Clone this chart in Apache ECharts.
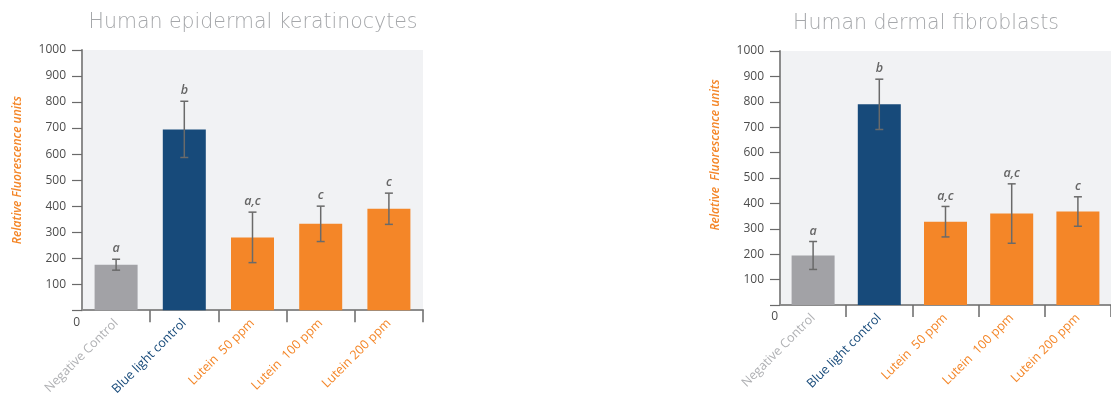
<!DOCTYPE html>
<html><head><meta charset="utf-8">
<script src="https://cdn.jsdelivr.net/npm/echarts@6/dist/echarts.min.js"></script>
<style>html,body{margin:0;padding:0;background:#fff}#c{width:1111px;height:398px}</style>
</head><body><div id="c"></div>
<script>
const categories = ['Negative Control', 'Blue light control', 'Lutein  50 ppm', 'Lutein  100 ppm', 'Lutein 200 ppm'];
const keratMeans = [175, 695, 280, 332, 390];
const keratErr = [21, 108, 97, 68, 60];
const keratLetters = ['a', 'b', 'a,c', 'c', 'c'];
const fibroMeans = [195, 790, 328, 360, 368];
const fibroErr = [55, 99, 60, 117, 58];
const fibroLetters = ['a', 'b', 'a,c', 'a,c', 'c'];
const titles = ['Human epidermal keratinocytes', 'Human dermal fibroblasts'];
const yNames = ['Relative Fluorescence units', 'Relative  Fluorescence units'];

const barColors = ['#a2a2a6', '#174a7a', '#f48628', '#f48628', '#f48628'];
const labelColors = ['#b0b1b4', '#174a7a', '#f48628', '#f48628', '#f48628'];
const FONT = '"Open Sans", "DejaVu Sans", sans-serif';
const TFONT = '"DejaVu Sans", sans-serif';

const chart = echarts.init(document.getElementById('c'));

function catData() {
  return categories.map((c, i) => ({ value: c, textStyle: { color: labelColors[i] } }));
}
function barData(means) {
  return means.map((v, i) => ({ value: v, itemStyle: { color: barColors[i] } }));
}
function errData(means, errs, letters) {
  return means.map((v, i) => [i, v - errs[i], v + errs[i], letters[i]]);
}
function renderErr(params, api) {
  const x = api.value(0);
  const lo = api.coord([x, api.value(1)]);
  const hi = api.coord([x, api.value(2)]);
  const capW = 4;
  const st = { stroke: '#6a6a6a', lineWidth: 1.5 };
  return {
    type: 'group',
    children: [
      { type: 'line', shape: { x1: lo[0], y1: lo[1], x2: hi[0], y2: hi[1] }, style: st },
      { type: 'line', shape: { x1: lo[0] - capW, y1: lo[1], x2: lo[0] + capW, y2: lo[1] }, style: st },
      { type: 'line', shape: { x1: hi[0] - capW, y1: hi[1], x2: hi[0] + capW, y2: hi[1] }, style: st },
      { type: 'text', x: hi[0], y: hi[1] - 4, style: { text: api.value(3), textAlign: 'center', textVerticalAlign: 'bottom', font: 'italic 600 12.5px ' + FONT, fill: '#666' } }
    ]
  };
}

function yAxis(gi, namePad) {
  return {
    gridIndex: gi, type: 'value', min: 0, max: 1000, interval: 100,
    name: yNames[gi], nameLocation: 'middle', nameGap: 58,
    nameTextStyle: { color: '#f48628', fontStyle: 'italic', fontWeight: 600, fontSize: 12, fontFamily: FONT, padding: [0, 0, 0, namePad] },
    axisLine: { show: true, lineStyle: { color: '#8c8c8c', width: 2 } },
    axisTick: { show: true, length: 10, lineStyle: { color: '#6a6a6a', width: 1.2 } },
    axisLabel: {
      margin: 2, fontSize: 12, color: '#4d4d4d', fontFamily: FONT,
      formatter: v => v === 0 ? '{z|0}' : '{n|' + v + '}',
      rich: { n: { padding: [0, 14, 0, 0], fontSize: 12, color: '#4d4d4d', fontFamily: FONT }, z: { padding: [24, 0, 0, 0], fontSize: 12, color: '#4d4d4d', fontFamily: FONT } }
    },
    splitLine: { show: false }
  };
}
function xAxis(gi) {
  return {
    gridIndex: gi, type: 'category', data: catData(), boundaryGap: true,
    axisLine: { show: true, lineStyle: { color: '#8c8c8c', width: 2 } },
    axisTick: { show: true, length: 12, interval: (i) => i !== 0, lineStyle: { color: '#6a6a6a', width: 1.5 } },
    axisLabel: { interval: 0, rotate: 45, margin: 11, fontSize: 12.5, fontWeight: 500, fontFamily: FONT }
  };
}

chart.setOption({
  animation: false,
  title: [
    { text: titles[0], left: 248, top: 7, textAlign: 'center', textStyle: { color: '#a5a7aa', fontWeight: 200, fontSize: 20.5, fontFamily: TFONT } },
    { text: titles[1], left: 921, top: 8, textAlign: 'center', textStyle: { color: '#a5a7aa', fontWeight: 200, fontSize: 20.5, fontFamily: TFONT } }
  ],
  grid: [
    { left: 82, width: 341, top: 50, height: 262, show: true, backgroundColor: '#f1f2f4', borderWidth: 0, containLabel: false },
    { left: 780, width: 340, top: 51, height: 254, show: true, backgroundColor: '#f1f2f4', borderWidth: 0, containLabel: false }
  ],
  xAxis: [xAxis(0), xAxis(1)],
  yAxis: [yAxis(0, 20), yAxis(1, 46)],
  series: [
    { type: 'bar', xAxisIndex: 0, yAxisIndex: 0, data: barData(keratMeans), barWidth: 43 },
    { type: 'custom', xAxisIndex: 0, yAxisIndex: 0, data: errData(keratMeans, keratErr, keratLetters), renderItem: renderErr, z: 5 },
    { type: 'bar', xAxisIndex: 1, yAxisIndex: 1, data: barData(fibroMeans), barWidth: 43 },
    { type: 'custom', xAxisIndex: 1, yAxisIndex: 1, data: errData(fibroMeans, fibroErr, fibroLetters), renderItem: renderErr, z: 5 }
  ]
});
</script></body></html>
